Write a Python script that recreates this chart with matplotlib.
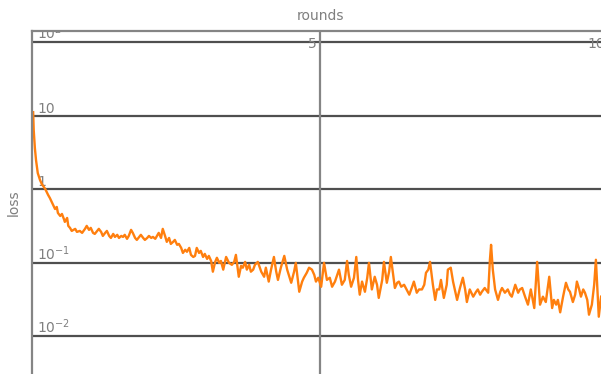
import matplotlib
matplotlib.use("Agg")
import matplotlib.pyplot as plt
import matplotlib.transforms as mtransforms

# Training loss logged over rounds
rounds = [
    0.02, 0.03, 0.05, 0.07, 0.10, 0.14, 0.17, 0.23, 0.28, 0.31, 0.35, 0.40, 0.43, 0.45, 0.49, 0.52,
    0.56, 0.57, 0.61, 0.63, 0.66, 0.69, 0.75, 0.78, 0.83, 0.87, 0.92, 0.95, 0.99, 1.02, 1.06, 1.09,
    1.13, 1.16, 1.20, 1.23, 1.27, 1.30, 1.34, 1.37, 1.41, 1.44, 1.48, 1.51, 1.55, 1.58, 1.61, 1.65,
    1.68, 1.72, 1.75, 1.79, 1.82, 1.86, 1.89, 1.93, 1.96, 2.00, 2.03, 2.07, 2.10, 2.14, 2.17, 2.20,
    2.24, 2.27, 2.31, 2.34, 2.38, 2.41, 2.45, 2.48, 2.52, 2.55, 2.59, 2.62, 2.66, 2.69, 2.73, 2.76,
    2.80, 2.83, 2.86, 2.90, 2.93, 2.97, 3.00, 3.04, 3.07, 3.11, 3.14, 3.18, 3.21, 3.25, 3.28, 3.32,
    3.37, 3.42, 3.47, 3.51, 3.54, 3.59, 3.63, 3.66, 3.70, 3.73, 3.77, 3.80, 3.84, 3.87, 3.92, 3.98,
    4.03, 4.06, 4.11, 4.15, 4.20, 4.24, 4.27, 4.32, 4.38, 4.43, 4.50, 4.55, 4.58, 4.64, 4.69, 4.72,
    4.77, 4.81, 4.86, 4.90, 4.93, 4.97, 5.02, 5.07, 5.12, 5.17, 5.21, 5.26, 5.30, 5.33, 5.38, 5.43,
    5.47, 5.50, 5.54, 5.59, 5.63, 5.66, 5.69, 5.73, 5.78, 5.82, 5.85, 5.90, 5.95, 5.99, 6.02, 6.08,
    6.11, 6.16, 6.20, 6.23, 6.27, 6.30, 6.34, 6.37, 6.41, 6.46, 6.49, 6.55, 6.60, 6.63, 6.68, 6.72,
    6.77, 6.81, 6.84, 6.88, 6.91, 6.96, 7.00, 7.03, 7.07, 7.10, 7.15, 7.20, 7.22, 7.27, 7.31, 7.34,
    7.38, 7.43, 7.48, 7.52, 7.55, 7.60, 7.66, 7.71, 7.74, 7.78, 7.81, 7.86, 7.92, 7.95, 7.97, 8.00,
    8.04, 8.09, 8.13, 8.16, 8.21, 8.26, 8.30, 8.33, 8.39, 8.44, 8.47, 8.51, 8.56, 8.61, 8.66, 8.72,
    8.77, 8.82, 8.87, 8.92, 8.98, 9.03, 9.06, 9.10, 9.13, 9.17, 9.22, 9.27, 9.31, 9.34, 9.39, 9.43,
    9.46, 9.50, 9.53, 9.57, 9.60, 9.64, 9.67, 9.72, 9.76, 9.79, 9.84, 9.88,
]
loss = [
    11.1, 6.3, 3.6, 2.47, 1.65, 1.32, 1.17, 1.0, 0.83, 0.755, 0.646, 0.535, 0.570, 0.472, 0.430, 0.458,
    0.379, 0.357, 0.404, 0.315, 0.296, 0.269, 0.287, 0.261, 0.269, 0.253, 0.287, 0.315, 0.278, 0.296, 0.253, 0.245,
    0.269, 0.287, 0.261, 0.230, 0.253, 0.269, 0.230, 0.216, 0.245, 0.223, 0.238, 0.216, 0.230, 0.223, 0.238, 0.210,
    0.230, 0.278, 0.253, 0.216, 0.203, 0.223, 0.238, 0.216, 0.203, 0.216, 0.230, 0.216, 0.223, 0.210, 0.230, 0.253,
    0.216, 0.287, 0.230, 0.191, 0.216, 0.179, 0.191, 0.203, 0.174, 0.179, 0.158, 0.135, 0.149, 0.140, 0.158, 0.127,
    0.119, 0.123, 0.158, 0.135, 0.144, 0.119, 0.131, 0.112, 0.123, 0.105, 0.075, 0.102, 0.116, 0.099, 0.105, 0.080,
    0.119, 0.099, 0.093, 0.102, 0.127, 0.064, 0.090, 0.085, 0.102, 0.080, 0.093, 0.075, 0.080, 0.093, 0.102, 0.075,
    0.064, 0.085, 0.055, 0.080, 0.119, 0.075, 0.058, 0.085, 0.123, 0.080, 0.053, 0.075, 0.099, 0.040, 0.055, 0.062,
    0.0725, 0.085, 0.080, 0.068, 0.055, 0.062, 0.0468, 0.099, 0.058, 0.062, 0.0468, 0.055, 0.068, 0.080, 0.0498, 0.058,
    0.105, 0.068, 0.0468, 0.062, 0.119, 0.058, 0.0365, 0.055, 0.040, 0.062, 0.099, 0.043, 0.064, 0.0498, 0.033, 0.058,
    0.102, 0.053, 0.075, 0.119, 0.068, 0.045, 0.053, 0.055, 0.0468, 0.0498, 0.045, 0.0365, 0.0468, 0.055, 0.0388, 0.043,
    0.043, 0.0498, 0.0725, 0.080, 0.102, 0.0498, 0.031, 0.043, 0.043, 0.058, 0.033, 0.0498, 0.080, 0.085, 0.055, 0.043,
    0.031, 0.045, 0.062, 0.043, 0.029, 0.043, 0.0343, 0.040, 0.043, 0.0365, 0.040, 0.045, 0.0388, 0.109, 0.174, 0.080,
    0.043, 0.031, 0.040, 0.045, 0.0388, 0.043, 0.0365, 0.0343, 0.0498, 0.0388, 0.043, 0.045, 0.0343, 0.0267, 0.043, 0.024,
    0.102, 0.0267, 0.0343, 0.029, 0.064, 0.024, 0.031, 0.0267, 0.031, 0.021, 0.0343, 0.053, 0.043, 0.040, 0.029, 0.0365,
    0.055, 0.043, 0.0343, 0.043, 0.0388, 0.031, 0.0195, 0.0267, 0.0498, 0.109, 0.0183, 0.0343,
]

y_ticks = [1e-2, 1e-1, 1, 10, 100]
y_tick_labels = ["$10^{-2}$", "$10^{-1}$", "1", "10", "$10^{2}$"]
x_ticks = [5, 10]
x_tick_labels = ["5", "10"]

W, H = 601, 374
fig = plt.figure(figsize=(W / 100, H / 100), dpi=100)
left_px, top_px, width_px = 32, 31, 576
ax = fig.add_axes([left_px / W, 0, width_px / W, (H - top_px) / H])

ax.set_yscale("log")
ax.set_xlim(0, 10)
ax.set_ylim(10 ** -2.517, 10 ** 2.15)

text_gray = "#7f7f7f"
grid_dark = "#4f4f4f"
spine_gray = "#858585"

for v in y_ticks:
    ax.axhline(v, color=grid_dark, lw=1.6, zorder=1)
for v in x_ticks:
    ax.axvline(v, color=spine_gray, lw=1.6, zorder=1)

ax.plot(rounds, loss, color="#ff7f0e", lw=1.7, zorder=3, solid_joinstyle="round")

for side in ("right", "bottom"):
    ax.spines[side].set_visible(False)
for side in ("top", "left"):
    ax.spines[side].set_color(spine_gray)
    ax.spines[side].set_linewidth(1.6)
    ax.spines[side].set_zorder(4)

ax.set_xticks([])
ax.set_yticks([])
ax.minorticks_off()
ax.tick_params(which="both", length=0)

# tick labels drawn inside the plotting area
ytrans = mtransforms.offset_copy(ax.get_yaxis_transform(), fig=fig, x=5, y=0, units="dots")
for v, lab in zip(y_ticks, y_tick_labels):
    ax.text(0, v, lab, transform=ytrans, ha="left", va="bottom", fontsize=10,
            color=text_gray, clip_on=True, zorder=2)

xtrans = mtransforms.offset_copy(ax.get_xaxis_transform(), fig=fig, x=-3, y=-6, units="dots")
for v, lab in zip(x_ticks, x_tick_labels):
    ax.text(v, 1, lab, transform=xtrans, ha="right", va="top", fontsize=10,
            color=text_gray, clip_on=False, zorder=2)

ax.set_ylabel("loss", color=text_gray, fontsize=10, labelpad=8)
ax.xaxis.set_label_position("top")
ax.set_xlabel("rounds", color=text_gray, fontsize=10, labelpad=8)
ax.xaxis.label.set_x((320 - left_px) / width_px)

fig.savefig("out.png", dpi=100)
